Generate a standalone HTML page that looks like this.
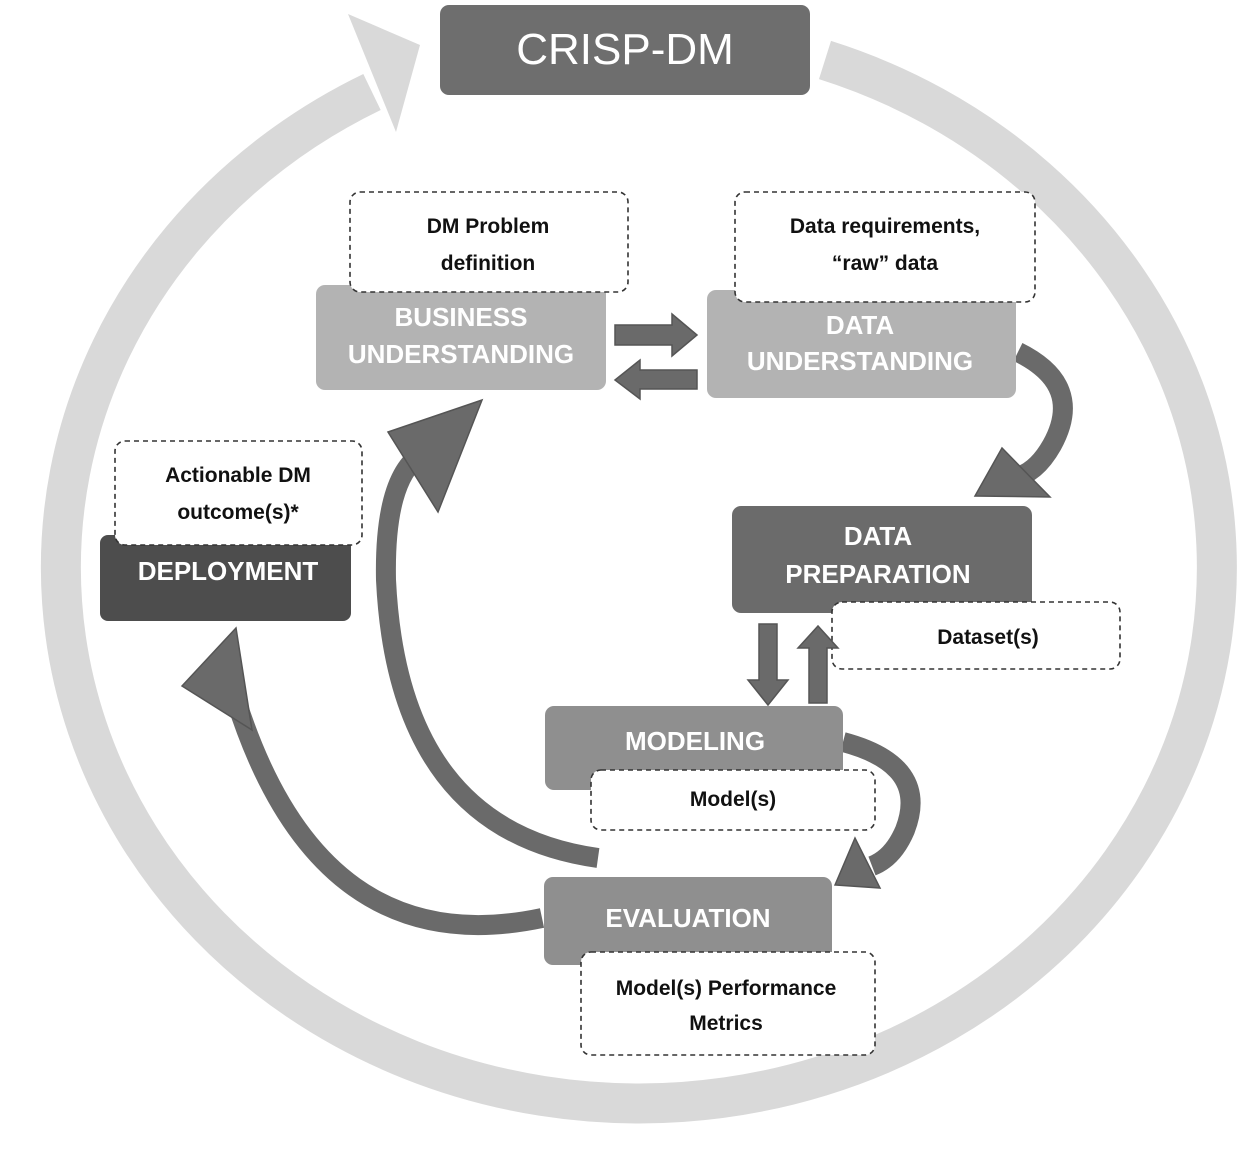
<!DOCTYPE html>
<html><head><meta charset="utf-8"><style>
html,body{margin:0;padding:0;background:#fff;}
svg{display:block;}
text{font-family:"Liberation Sans",sans-serif;}
.w{fill:#fff;font-weight:bold;font-size:26px;text-anchor:middle;}
.b{fill:#111;font-weight:bold;font-size:21px;text-anchor:middle;}
.note{fill:#fff;stroke:#333;stroke-width:1.6;stroke-dasharray:5,4;}
.ar{fill:#6a6a6a;stroke:#555;stroke-width:1.5;}
.cv{fill:none;stroke:#6a6a6a;stroke-width:20;}
</style></head><body>
<svg width="1258" height="1152" viewBox="0 0 1258 1152">
<path d="M 825 60 A 578 536 0 1 1 372 92" fill="none" stroke="#d9d9d9" stroke-width="40"/>
<polygon points="348,14 420,45 396,132" fill="#d9d9d9"/>

<rect x="440" y="5" width="370" height="90" rx="9" fill="#6e6e6e"/>
<text x="625" y="64" fill="#fff" font-size="44" text-anchor="middle">CRISP-DM</text>

<path class="cv" d="M 598 858 Q 398 830 386 580 Q 384 480 420 455"/>
<polygon class="ar" points="388,432 482,400 438,512"/>
<path class="cv" d="M 542 918 Q 320 965 236 700"/>
<polygon class="ar" points="182,686 236,628 252,730"/>
<path class="cv" d="M 1018 352 Q 1085 385 1052 445 Q 1035 475 1012 478"/>
<polygon class="ar" points="975,496 1002,448 1050,497"/>
<path class="cv" d="M 843 742 Q 930 765 905 830 Q 893 858 872 866"/>
<polygon class="ar" points="835,885 855,838 880,888"/>

<rect x="100" y="535" width="251" height="86" rx="8" fill="#4d4d4d"/>
<rect class="note" x="115" y="441" width="247" height="104" rx="10"/>
<text class="b" x="238" y="482">Actionable DM</text>
<text class="b" x="238" y="519">outcome(s)*</text>
<text class="w" x="228" y="580">DEPLOYMENT</text>

<rect x="316" y="285" width="290" height="105" rx="9" fill="#b3b3b3"/>
<rect class="note" x="350" y="192" width="278" height="100" rx="10"/>
<text class="b" x="488" y="233">DM Problem</text>
<text class="b" x="488" y="270">definition</text>
<text class="w" x="461" y="326">BUSINESS</text>
<text class="w" x="461" y="363">UNDERSTANDING</text>

<rect x="707" y="290" width="309" height="108" rx="9" fill="#b3b3b3"/>
<rect class="note" x="735" y="192" width="300" height="110" rx="10"/>
<text class="b" x="885" y="233">Data requirements,</text>
<text class="b" x="885" y="270">“raw” data</text>
<text class="w" x="860" y="334">DATA</text>
<text class="w" x="860" y="370">UNDERSTANDING</text>

<polygon class="ar" points="615,325 672,325 672,314 697,335 672,356 672,345 615,345"/>
<polygon class="ar" points="697,370 640,370 640,360 615,380 640,399 640,389 697,389"/>

<rect x="732" y="506" width="300" height="107" rx="9" fill="#6b6b6b"/>
<text class="w" x="878" y="545">DATA</text>
<text class="w" x="878" y="583">PREPARATION</text>
<rect class="note" x="832" y="602" width="288" height="67" rx="10"/>
<text class="b" x="988" y="644">Dataset(s)</text>

<polygon class="ar" points="759,624 777,624 777,680 788,680 768,705 748,680 759,680"/>
<polygon class="ar" points="809,703 827,703 827,648 838,648 818,626 798,648 809,648"/>

<rect x="545" y="706" width="298" height="84" rx="9" fill="#8f8f8f"/>
<text class="w" x="695" y="750">MODELING</text>
<rect class="note" x="591" y="770" width="284" height="60" rx="10"/>
<text class="b" x="733" y="806">Model(s)</text>

<rect x="544" y="877" width="288" height="88" rx="9" fill="#8f8f8f"/>
<text class="w" x="688" y="927">EVALUATION</text>
<rect class="note" x="581" y="952" width="294" height="103" rx="10"/>
<text class="b" x="726" y="995">Model(s) Performance</text>
<text class="b" x="726" y="1030">Metrics</text>
</svg>
</body></html>
